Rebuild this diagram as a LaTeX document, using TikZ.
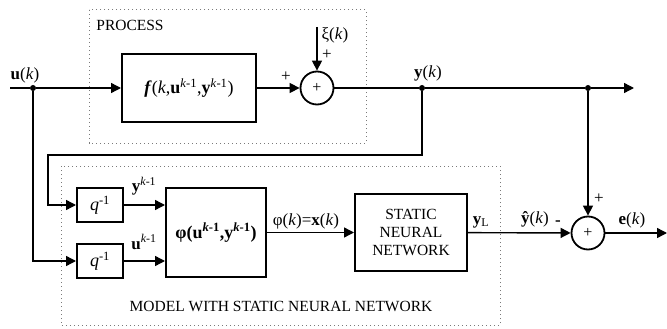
\documentclass[tikz,border=0pt]{standalone}
\usepackage{fontspec}
\setmainfont{Liberation Serif}
\usetikzlibrary{arrows.meta,positioning,calc}
\definecolor{FrameGray}{HTML}{7A7A7A}
\newcommand{\sigk}[1]{\textbf{#1}(\textit{k})}
\newcommand{\prevk}[1]{\textbf{#1}\textsuperscript{\textit{k}-1}}
\newcommand{\qinv}{\textit{q}\textsuperscript{-1}}
\tikzset{
  blk/.style={draw,line width=2pt,inner sep=0pt,align=center},
  sumnode/.style={draw,circle,line width=1.8pt,minimum size=33pt,inner sep=0pt,font=\fontsize{16}{18}\selectfont},
  wire/.style={line width=1.4pt},
  sig/.style={line width=1.4pt,-{Triangle[length=10pt,width=10pt]}},
  frame/.style={draw=FrameGray,line width=1pt,dash pattern=on 1.1pt off 2.9pt},
  junc/.style={circle,fill,inner sep=0pt,minimum size=6pt},
  lbl/.style={inner sep=0pt,font=\fontsize{17}{20}\selectfont},
}
\begin{document}
\begin{tikzpicture}[x=1pt,y=-1pt,font=\fontsize{15.5}{18}\selectfont]
\useasboundingbox (0,0) rectangle (667,329);
\draw[frame] (89,10) rectangle (366,143);
\draw[frame] (61,166) rectangle (500,325);
\node[inner sep=0pt] (proc) at (130,25) {PROCESS};
\node[inner sep=0pt] (model) at (281,306) {MODEL WITH STATIC NEURAL NETWORK};

\node[blk,minimum width=134pt,minimum height=68pt,font=\fontsize{18}{20}\selectfont] (f) at (189,88) {\textbf{\textit{f}}(\textit{k},\prevk{u},\prevk{y})};
\node[sumnode] (s1) at (317,88) {+};
\node[blk,minimum width=46pt,minimum height=34pt,font=\fontsize{18}{20}\selectfont] (q1) at (100,205) {\qinv};
\node[blk,minimum width=46pt,minimum height=34pt,font=\fontsize{18}{20}\selectfont] (q2) at (100,261) {\qinv};
\node[blk,minimum width=100pt,minimum height=89pt,font=\fontsize{18}{20}\selectfont] (phi) at (216,232.5) {\textbf{φ(\prevk{u},\prevk{y})}};
\node[blk,minimum width=112pt,minimum height=77pt] (nn) at (411,232.5) {STATIC\\NEURAL\\NETWORK};
\node[sumnode] (s2) at (588,233) {+};

\coordinate (uin) at (10,88);
\coordinate (xi) at (317,27);
\coordinate (yout) at (634,88);
\coordinate (fb) at (48,155);
\coordinate (eout) at (667,233);
\node[junc] (ju) at (33,88) {};
\node[junc] (jy) at (422,88) {};
\node[junc] (jy2) at (588,88) {};

\draw[wire] (uin) -- (ju);
\draw[sig] (ju) -- (f);
\draw[sig] (f) -- (s1);
\draw[sig] (xi) -- (s1);
\draw[wire] (s1) -- (jy) -- (jy2);
\draw[sig] (jy2) -- (yout);
\draw[sig] (jy) |- (fb) |- (q1);
\draw[sig] (ju) |- (q2);
\draw[sig] (q1) -- (phi.west |- q1);
\draw[sig] (q2) -- (phi.west |- q2);
\draw[sig] (phi) -- (nn);
\draw[sig] (nn) -- (s2);
\draw[sig] (jy2) -- (s2);
\draw[sig] (s2) -- (eout);

\node[lbl] (lu) at (25,75) {\sigk{u}};
\node[lbl] (lxi) at (335,35) {ξ(\textit{k})};
\node[lbl] (lp1) at (327,55) {+};
\node[lbl] (lp2) at (286,77) {+};
\node[lbl] (ly) at (428,73) {\sigk{y}};
\node[lbl] (lyp) at (144,186) {\prevk{y}};
\node[lbl] (lup) at (144,242) {\prevk{u}};
\node[lbl] (lx) at (306,221) {φ(\textit{k})=\sigk{x}};
\node[lbl] (lyl) at (481,222) {\textbf{y}\textsubscript{L}};
\node[lbl] (lyh) at (535,219) {\sigk{ŷ}};
\node[lbl] (lm) at (558,223) {\textbf{-}};
\node[lbl] (lp3) at (599,199) {+};
\node[lbl] (le) at (632,220) {\sigk{e}};
\end{tikzpicture}
\end{document}
